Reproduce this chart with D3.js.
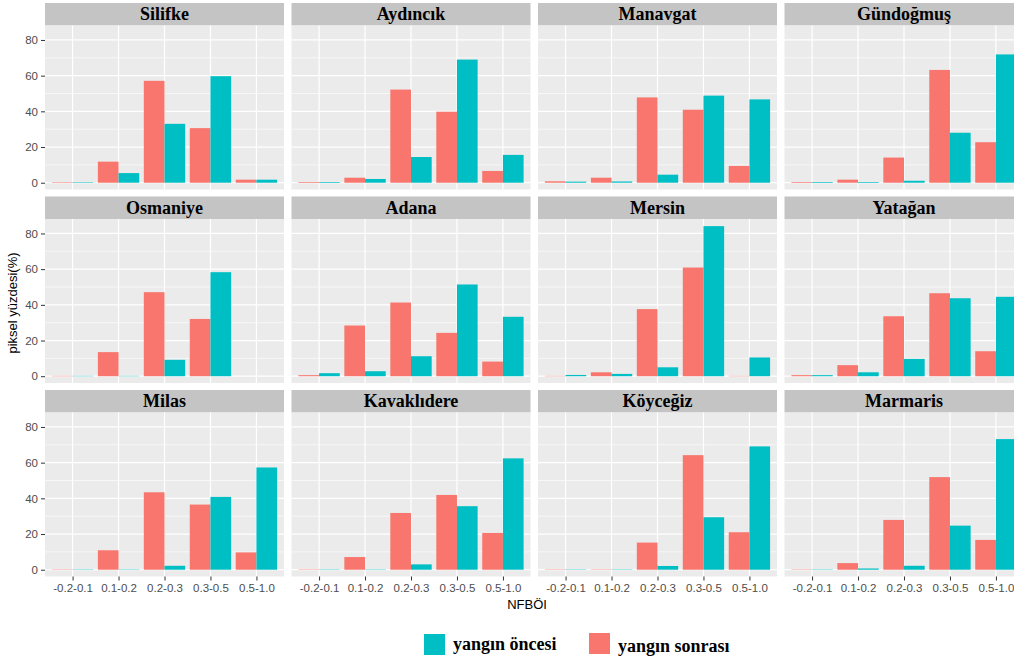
<!DOCTYPE html>
<html>
<head>
<meta charset="utf-8">
<script src="https://cdn.jsdelivr.net/npm/d3@7"></script>
<style>
  body { margin: 0; background: #fff; }
  svg { display: block; }
</style>
</head>
<body>
<svg width="1014" height="659"></svg>
<script>
// categories and regions
const categories = ["-0.2-0.1", "0.1-0.2", "0.2-0.3", "0.3-0.5", "0.5-1.0"];
const regions = ["Silifke", "Aydıncık", "Manavgat", "Gündoğmuş",
  "Osmaniye", "Adana", "Mersin", "Yatağan",
  "Milas", "Kavaklıdere", "Köyceğiz", "Marmaris"];

// yangın sonrası (red)
const afterFire = [
  [0.3, 11.8, 57.1, 30.6, 1.7],
  [0.4, 2.8, 52.2, 39.8, 6.6],
  [0.8, 2.8, 47.8, 40.9, 9.4],
  [0.4, 1.7, 14.1, 63.2, 22.7],
  [0.2, 13.5, 47.1, 32.1, 0],
  [0.6, 28.4, 41.3, 24.3, 8.2],
  [0.2, 2.2, 37.6, 60.9, 0.2],
  [0.6, 6.2, 33.6, 46.5, 14.0],
  [0.2, 10.9, 43.4, 36.5, 9.7],
  [0.2, 7.1, 31.8, 41.9, 20.6],
  [0.2, 0.2, 15.2, 64.2, 21.0],
  [0.2, 3.7, 27.9, 51.9, 16.7]
];
// yangın öncesi (cyan)
const beforeFire = [
  [0.3, 5.4, 33.0, 59.7, 1.7],
  [0.4, 2.1, 14.4, 69.0, 15.6],
  [0.6, 0.7, 4.5, 48.8, 46.7],
  [0.4, 0.4, 1.1, 28.0, 71.9],
  [0.2, 0.2, 9.2, 58.3, 0],
  [1.7, 2.8, 11.2, 51.4, 33.3],
  [0.7, 1.3, 5.0, 84.1, 10.5],
  [0.6, 2.2, 9.7, 43.7, 44.5],
  [0.2, 0.2, 2.2, 40.8, 57.3],
  [0.2, 0.2, 3.0, 35.6, 62.4],
  [0.2, 0.2, 2.1, 29.4, 69.1],
  [0.2, 0.7, 2.2, 24.7, 73.2]
];
const yTicks = [0, 20, 40, 60, 80];

const colAfter = "#F8766D";
const colBefore = "#00BFC4";

const left = 45, panelW = 239, gapX = 7.5;
const rowTops = [3, 196.5, 390];
const stripH = 22.5, panelH = 164;

const svg = d3.select("svg");

const x = d3.scalePoint().domain(categories).range([0, panelW]).padding(0.6);
const step = x.step();
const barW = step * 0.45;

const y = d3.scaleLinear().domain([-3.8, 88.1]).range([panelH, 0]);

regions.forEach((name, i) => {
  const row = Math.floor(i / 4), col = i % 4;
  const px = left + col * (panelW + gapX);
  const top = rowTops[row];
  const g = svg.append("g").attr("transform", `translate(${px},${top})`);

  // strip
  g.append("rect")
    .attr("width", panelW).attr("height", stripH)
    .attr("fill", "#C4C4C4");
  g.append("text")
    .attr("x", panelW / 2).attr("y", stripH / 2 + 6)
    .attr("text-anchor", "middle")
    .style("font-family", "'Liberation Serif', serif")
    .style("font-weight", "bold")
    .style("font-size", "18px")
    .attr("fill", "#000")
    .text(name);

  const p = g.append("g").attr("transform", `translate(0,${stripH})`);
  p.append("rect").attr("width", panelW).attr("height", panelH).attr("fill", "#EBEBEB");

  // minor grid
  p.selectAll("line.minor")
    .data([10, 30, 50, 70])
    .join("line")
    .attr("x1", 0).attr("x2", panelW)
    .attr("y1", (d) => y(d)).attr("y2", (d) => y(d))
    .attr("stroke", "#fff").attr("stroke-width", 0.6);
  // major grid
  p.selectAll("line.major")
    .data(yTicks)
    .join("line")
    .attr("x1", 0).attr("x2", panelW)
    .attr("y1", (d) => y(d)).attr("y2", (d) => y(d))
    .attr("stroke", "#fff").attr("stroke-width", 1.2);
  p.selectAll("line.vgrid")
    .data(categories)
    .join("line")
    .attr("x1", (d) => x(d)).attr("x2", (d) => x(d))
    .attr("y1", 0).attr("y2", panelH)
    .attr("stroke", "#fff").attr("stroke-width", 1.2);

  // bars
  p.selectAll("rect.after")
    .data(afterFire[i])
    .join("rect")
    .attr("x", (d, k) => x(categories[k]) - barW)
    .attr("width", barW)
    .attr("y", (d) => y(Math.max(d, 0)))
    .attr("height", (d) => y(0) - y(Math.max(d, 0)))
    .attr("fill", colAfter);
  p.selectAll("rect.before")
    .data(beforeFire[i])
    .join("rect")
    .attr("x", (d, k) => x(categories[k]))
    .attr("width", barW)
    .attr("y", (d) => y(Math.max(d, 0)))
    .attr("height", (d) => y(0) - y(Math.max(d, 0)))
    .attr("fill", colBefore);

  // y axis on first column
  if (col === 0) {
    const ya = p.append("g").call(d3.axisLeft(y).tickValues(yTicks).tickSize(4).tickPadding(3));
    ya.select(".domain").remove();
    ya.selectAll("line").attr("stroke", "#333");
    ya.selectAll("text")
      .style("font-family", "'Liberation Sans', Arial, sans-serif")
      .style("font-size", "11.5px")
      .attr("fill", "#4D4D4D");
  }
  // x axis on bottom row
  if (row === 2) {
    const xa = p.append("g")
      .attr("transform", `translate(0,${panelH})`)
      .call(d3.axisBottom(x).tickSize(4).tickPadding(3));
    xa.select(".domain").remove();
    xa.selectAll("line").attr("stroke", "#333");
    xa.selectAll("text")
      .style("font-family", "'Liberation Sans', Arial, sans-serif")
      .style("font-size", "11.5px")
      .attr("fill", "#4D4D4D");
  }
});

// axis titles
svg.append("text")
  .attr("x", 527).attr("y", 609)
  .attr("text-anchor", "middle")
  .style("font-family", "'Liberation Sans', Arial, sans-serif")
  .style("font-size", "13px")
  .text("NFBÖI");

svg.append("text")
  .attr("transform", "translate(17,303) rotate(-90)")
  .attr("text-anchor", "middle")
  .style("font-family", "'Liberation Sans', Arial, sans-serif")
  .style("font-size", "13px")
  .text("piksel yüzdesi(%)");

// legend
const legendItems = [
  { label: "yangın öncesi", color: colBefore, x: 424, y: 634 },
  { label: "yangın sonrası", color: colAfter, x: 589, y: 633 }
];
const lg = svg.append("g");
legendItems.forEach((d) => {
  lg.append("rect")
    .attr("x", d.x).attr("y", d.y)
    .attr("width", 21).attr("height", 21)
    .attr("fill", d.color);
  lg.append("text")
    .attr("x", d.x + 29).attr("y", d.y + 16 + (d.x > 500 ? 3 : 0))
    .style("font-family", "'Liberation Serif', serif")
    .style("font-weight", "bold")
    .style("font-size", "18px")
    .text(d.label);
});
</script>
</body>
</html>
